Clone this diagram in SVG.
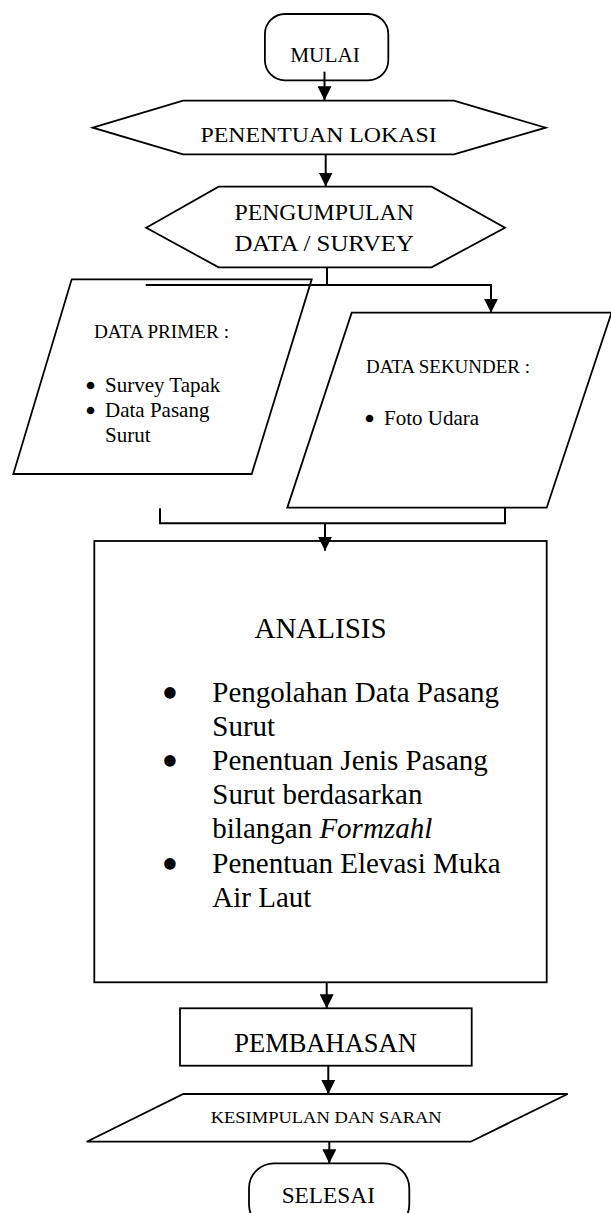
<svg xmlns="http://www.w3.org/2000/svg" width="611" height="1213" viewBox="0 0 611 1213">
<style>
.shape{fill:#ffffff;stroke:#000000;stroke-width:1.8;stroke-linejoin:miter}
.conn{fill:none;stroke:#000000;stroke-width:2}
text{font-family:"Liberation Serif","Times New Roman",serif;fill:#000000}
.mid{text-anchor:middle}
.bs{font-size:21.5px;stroke:#000000;stroke-width:2.4}
.bl{font-size:48px}
</style>
<defs>
<marker id="arrow" markerUnits="userSpaceOnUse" markerWidth="14" markerHeight="14" refX="14" refY="7" orient="auto">
<path d="M0,0 L14,7 L0,14 z" fill="#000000"/>
</marker>
</defs>
<rect width="611" height="1213" fill="#ffffff"/>

<g id="node-mulai">
<rect class="shape" x="264.9" y="14" width="123.4" height="66.3" rx="20" ry="20"/>
<text class="mid" x="325" y="61.7" font-size="21" textLength="69.7" lengthAdjust="spacingAndGlyphs">MULAI</text>
</g>

<g id="node-penentuan-lokasi">
<polygon class="shape" points="92.8,127.7 183,100.7 454,100.7 545.7,127.7 454,154.3 183,154.3"/>
<text class="mid" x="318.6" y="141.7" font-size="22" textLength="236" lengthAdjust="spacingAndGlyphs">PENENTUAN LOKASI</text>
</g>

<g id="node-pengumpulan">
<polygon class="shape" points="146.2,227.7 218.6,186.7 431.6,186.7 505,227.7 431.6,267.3 218.6,267.3"/>
<text class="mid" x="324.2" y="220" font-size="24" textLength="179.5" lengthAdjust="spacingAndGlyphs">PENGUMPULAN</text>
<text class="mid" x="324.2" y="250.7" font-size="24" textLength="179.5" lengthAdjust="spacingAndGlyphs">DATA / SURVEY</text>
</g>

<g id="node-data-primer">
<polygon class="shape" points="71.7,279.3 311.7,279.3 251.7,474 13.3,474"/>
<text x="94" y="338.3" font-size="18" textLength="135" lengthAdjust="spacingAndGlyphs">DATA PRIMER :</text>
<text font-size="21"><tspan class="bs" x="86.8" y="392.9">•</tspan><tspan x="105" y="391.5">Survey Tapak</tspan><tspan class="bs" x="86.8" y="417.9">•</tspan><tspan x="105" y="416.5">Data Pasang</tspan><tspan x="105" y="441.5">Surut</tspan></text>
</g>

<g id="node-data-sekunder">
<polygon class="shape" points="351.7,312.7 611.5,312.7 546.7,507.7 287.3,507.7"/>
<text x="366" y="372.7" font-size="18" textLength="164" lengthAdjust="spacingAndGlyphs">DATA SEKUNDER :</text>
<text font-size="21"><tspan class="bs" x="365.8" y="426.4">•</tspan><tspan x="384" y="425">Foto Udara</tspan></text>
</g>

<g id="node-analisis">
<rect class="shape" x="94.3" y="541" width="452.4" height="441.3"/>
<text class="mid" x="320.5" y="638.3" font-size="29">ANALISIS</text>
<text class="mid bl" x="170" y="708.7">•</text>
<text x="212.3" y="701.7" font-size="29">Pengolahan Data Pasang</text>
<text x="212.3" y="735.9" font-size="29">Surut</text>
<text class="mid bl" x="170" y="777">•</text>
<text x="212.3" y="770" font-size="29">Penentuan Jenis Pasang</text>
<text x="212.3" y="804.2" font-size="29">Surut berdasarkan</text>
<text x="212.3" y="838.4" font-size="29">bilangan <tspan font-style="italic">Formzahl</tspan></text>
<text class="mid bl" x="170" y="879.6">•</text>
<text x="212.3" y="872.6" font-size="29">Penentuan Elevasi Muka</text>
<text x="212.3" y="906.7" font-size="29">Air Laut</text>
</g>

<g id="node-pembahasan">
<rect class="shape" x="180" y="1008.3" width="291.7" height="57.4"/>
<text class="mid" x="325.5" y="1051.7" font-size="26.5">PEMBAHASAN</text>
</g>

<g id="node-kesimpulan">
<polygon class="shape" points="183.3,1094 567.7,1094 470.7,1141.7 86.7,1141.7"/>
<text class="mid" x="326.2" y="1122.7" font-size="17.5" textLength="231" lengthAdjust="spacingAndGlyphs">KESIMPULAN DAN SARAN</text>
</g>

<g id="node-selesai">
<rect class="shape" x="249" y="1163.3" width="160.3" height="66" rx="25" ry="25"/>
<text class="mid" x="328.3" y="1202.7" font-size="23.5" textLength="93.3" lengthAdjust="spacingAndGlyphs">SELESAI</text>
</g>

<g id="connectors">
<line class="conn" x1="324.5" y1="71.7" x2="324.5" y2="100.3" marker-end="url(#arrow)"/>
<line class="conn" x1="325.7" y1="154.3" x2="325.7" y2="186.5" marker-end="url(#arrow)"/>
<polyline class="conn" points="327,267.3 327,285"/>
<line class="conn" x1="145.7" y1="285" x2="491" y2="285"/>
<line class="conn" x1="491" y1="284" x2="491" y2="312.7" marker-end="url(#arrow)"/>
<polyline class="conn" points="160,508.3 160,523.3 505,523.3 505,507.7"/>
<line class="conn" x1="325" y1="523.3" x2="325" y2="550.7" marker-end="url(#arrow)"/>
<line class="conn" x1="326.7" y1="982.3" x2="326.7" y2="1008.3" marker-end="url(#arrow)"/>
<line class="conn" x1="328.3" y1="1065.7" x2="328.3" y2="1094" marker-end="url(#arrow)"/>
<line class="conn" x1="329.3" y1="1141.7" x2="329.3" y2="1163.3" marker-end="url(#arrow)"/>
</g>
</svg>
